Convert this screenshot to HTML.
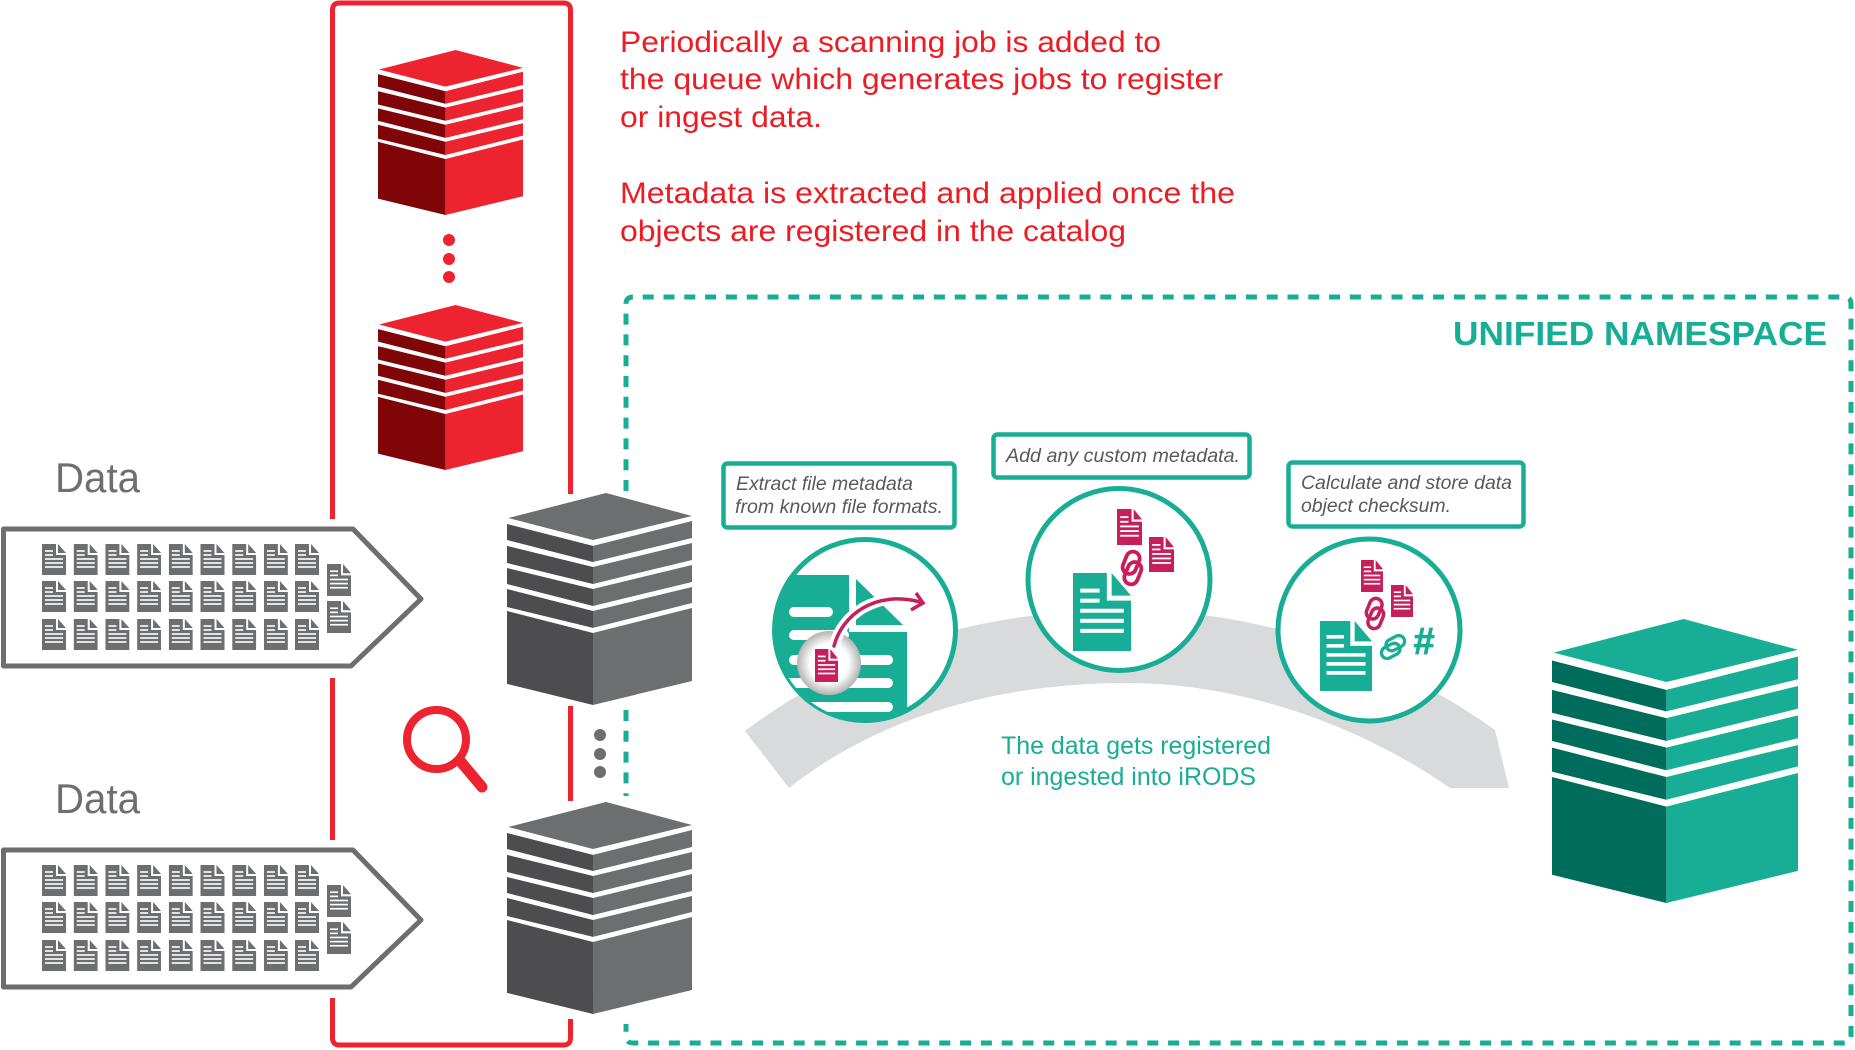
<!DOCTYPE html>
<html><head><meta charset="utf-8"><style>
html,body{margin:0;padding:0;background:#fff}
svg{display:block;font-family:"Liberation Sans",sans-serif}
</style></head><body>
<svg width="1855" height="1050" viewBox="0 0 1855 1050" xmlns="http://www.w3.org/2000/svg">
<defs>
<symbol id="cube" viewBox="0 0 145 165" preserveAspectRatio="none" overflow="visible">
<polygon points="77.600,0 145,17.900 67.400,36.600 1,19.500" style="fill:var(--l)"/>
<polygon points="0,24.100 67.400,41.200 67.400,53.700 0,36.600" style="fill:var(--d)"/><polygon points="67.400,41.200 145,21.800 145,35 67.400,53.700" style="fill:var(--l)"/>
<polygon points="0,41.200 67.400,57.600 67.400,70.800 0,54.500" style="fill:var(--d)"/><polygon points="67.400,57.600 145,38.900 145,52.100 67.400,70.800" style="fill:var(--l)"/>
<polygon points="0,58.400 67.400,74.700 67.400,87.900 0,70.800" style="fill:var(--d)"/><polygon points="67.400,74.700 145,56 145,69.300 67.400,87.900" style="fill:var(--l)"/>
<polygon points="0,74.700 67.400,91.800 67.400,105 0,88.700" style="fill:var(--d)"/><polygon points="67.400,91.800 145,73.200 145,85.600 67.400,105" style="fill:var(--l)"/>
<polygon points="0,91.800 67.400,109 67.400,165 0,148.600" style="fill:var(--d)"/><polygon points="67.400,109 145,89.500 145,146.300 67.400,165" style="fill:var(--l)"/>
</symbol>
<symbol id="doc" viewBox="0 0 24 31" preserveAspectRatio="none">
<path d="M0 0H14V11H24V31H0Z" fill="currentColor"/><path d="M16 0L24 9H16Z" fill="currentColor"/>
<g fill="#fff"><rect x="3" y="6.200" width="8" height="1.600"/><rect x="3" y="10.200" width="8" height="1.600"/><rect x="3" y="14.200" width="18" height="1.600"/><rect x="3" y="18.200" width="18" height="1.600"/><rect x="3" y="22.200" width="18" height="1.600"/></g>
</symbol>
<g id="chain" fill="none" stroke="currentColor" stroke-width="3.800">
<rect x="-9.500" y="-16" width="13.500" height="23" rx="6.750"/>
<rect x="-4" y="-7" width="13.500" height="23" rx="6.750"/>
</g>
<g id="row" style="color:#6d6e70">
<use href="#doc" x="42" width="24" height="31"/><use href="#doc" x="73.700" width="24" height="31"/><use href="#doc" x="105.400" width="24" height="31"/><use href="#doc" x="137.100" width="24" height="31"/><use href="#doc" x="168.800" width="24" height="31"/><use href="#doc" x="200.500" width="24" height="31"/><use href="#doc" x="232.200" width="24" height="31"/><use href="#doc" x="263.900" width="24" height="31"/><use href="#doc" x="295" width="24" height="31"/>
</g>
<g id="pack">
<polygon points="3.500,529 353,529 421,599 351,666 3.500,666" fill="#fff" stroke="#6d6e70" stroke-width="5" stroke-linejoin="round"/>
<use href="#row" y="544"/><use href="#row" y="581"/><use href="#row" y="619"/>
<g style="color:#6d6e70"><use href="#doc" x="327" y="564" width="24" height="32"/><use href="#doc" x="327" y="601" width="24" height="32"/></g>
</g>
<clipPath id="c1"><circle cx="865" cy="630" r="90"/></clipPath>
<radialGradient id="ball"><stop offset="0" stop-color="#fff"/><stop offset=".6" stop-color="#fff"/><stop offset="1" stop-color="#b4b4b4"/></radialGradient>
</defs>

<!-- red frame -->
<path d="M332.500 519V10Q332.500 3 339.500 3H563.500Q570.500 3 570.500 10V494M332.500 678V840M570.500 706V801M332.500 998V1038Q332.500 1045 339.500 1045H563.500Q570.500 1045 570.500 1038V1019" fill="none" stroke="#ed2330" stroke-width="5"/>

<!-- teal dashed frame -->
<path d="M626 491V304Q626 297 633 297H1844Q1851 297 1851 304V1036Q1851 1043 1844 1043H633Q626 1043 626 1036V1024M626 710V796" fill="none" stroke="#18ae95" stroke-width="5" stroke-dasharray="11 9.800"/>

<!-- red cubes -->
<g style="--l:#ed2330;--d:#7f0508">
<use href="#cube" x="378" y="50" width="145" height="165"/>
<use href="#cube" x="378" y="305" width="145" height="165"/>
</g>
<g fill="#ed2330"><circle cx="449" cy="240" r="6"/><circle cx="449" cy="259" r="6"/><circle cx="449" cy="277" r="6"/></g>

<!-- red text -->
<g fill="#ed1c24" font-size="30">
<text x="620" y="52" textLength="541" lengthAdjust="spacingAndGlyphs">Periodically a scanning job is added to</text>
<text x="620" y="89" textLength="603" lengthAdjust="spacingAndGlyphs">the queue which generates jobs to register</text>
<text x="620" y="127" textLength="202" lengthAdjust="spacingAndGlyphs">or ingest data.</text>
<text x="620" y="203" textLength="615" lengthAdjust="spacingAndGlyphs">Metadata is extracted and applied once the</text>
<text x="620" y="241" textLength="506" lengthAdjust="spacingAndGlyphs">objects are registered in the catalog</text>
</g>
<text x="1453" y="345" font-size="33" font-weight="bold" fill="#18ae95" textLength="374" lengthAdjust="spacingAndGlyphs">UNIFIED NAMESPACE</text>

<!-- data -->
<g fill="#6d6e70" font-size="42">
<text x="55" y="492" textLength="85" lengthAdjust="spacingAndGlyphs">Data</text>
<text x="55" y="813" textLength="85" lengthAdjust="spacingAndGlyphs">Data</text>
</g>
<use href="#pack"/><use href="#pack" y="321"/>

<!-- grey cubes -->
<g style="--l:#6d6e70;--d:#4d4d4f">
<use href="#cube" x="507" y="493" width="185" height="212"/>
<use href="#cube" x="507" y="802" width="185" height="212"/>
</g>
<g fill="#6d6e70"><circle cx="600" cy="735" r="6"/><circle cx="600" cy="754" r="6"/><circle cx="600" cy="772" r="6"/></g>

<!-- magnifier -->
<circle cx="436.500" cy="739.500" r="29.500" fill="none" stroke="#ed2330" stroke-width="8"/>
<line x1="461" y1="762" x2="482" y2="787" stroke="#ed2330" stroke-width="11" stroke-linecap="round"/>

<!-- arc -->
<path d="M745 731C840 660 960 610 1125 610C1260 610 1390 655 1495 730L1509 788H1450C1345 715 1225 683 1127 683C1000 683 880 716 789 788Z" fill="#d9dadc"/>

<!-- circle 1 -->
<circle cx="865" cy="630" r="90.500" fill="#fff" stroke="#18ae95" stroke-width="5"/>
<g clip-path="url(#c1)">
<path d="M760 575H849V632H907V735H760Z" fill="#18ae95"/>
<path d="M856 579L903 625H856Z" fill="#18ae95"/>
<g fill="#fff"><rect x="789" y="607" width="44" height="10" rx="5"/><rect x="789" y="630" width="60" height="10" rx="5"/><rect x="789" y="655" width="104" height="10" rx="5"/><rect x="780" y="678" width="113" height="10" rx="5"/><rect x="780" y="702" width="113" height="10" rx="5"/></g>
</g>
<circle cx="829" cy="663" r="32" fill="url(#ball)"/>
<path d="M834 646C842 615 875 590 920 602" fill="none" stroke="#fff" stroke-width="11"/>
<path d="M834 646C842 615 875 590 920 602" fill="none" stroke="#c81e5b" stroke-width="3.500" stroke-linecap="round"/>
<path d="M916 593L923 603L911 610" fill="none" stroke="#c81e5b" stroke-width="3.500"/>
<use href="#doc" x="815" y="649" width="23" height="33" style="color:#c81e5b"/>

<!-- circle 2 -->
<circle cx="1119" cy="579.500" r="91" fill="#fff" stroke="#18ae95" stroke-width="5"/>
<use href="#doc" x="1073" y="573" width="58" height="78" style="color:#18ae95"/>
<use href="#doc" x="1117" y="509" width="25" height="36" style="color:#c81e5b"/>
<use href="#doc" x="1149" y="537" width="25" height="35" style="color:#c81e5b"/>
<use href="#chain" transform="translate(1132 568) rotate(22)" style="color:#c81e5b"/>

<!-- circle 3 -->
<circle cx="1369" cy="630" r="91" fill="#fff" stroke="#18ae95" stroke-width="5"/>
<use href="#doc" x="1320" y="621" width="52" height="70" style="color:#18ae95"/>
<use href="#doc" x="1361" y="560" width="22" height="32" style="color:#c81e5b"/>
<use href="#doc" x="1391" y="585" width="22" height="32" style="color:#c81e5b"/>
<use href="#chain" transform="translate(1375 613.500) rotate(22) scale(.92)" style="color:#c81e5b"/>
<use href="#chain" transform="translate(1393 647) rotate(62) scale(.85)" style="color:#18ae95"/>
<text x="1413.500" y="654" font-size="38" font-weight="bold" fill="#18ae95" stroke="#18ae95" stroke-width=".8">#</text>

<!-- callouts -->
<g fill="#fff" stroke="#18ae95" stroke-width="4.500">
<rect x="723.500" y="463.500" width="231" height="64" rx="4"/>
<rect x="993.500" y="434.500" width="256" height="43" rx="4"/>
<rect x="1288.500" y="462.500" width="235" height="64" rx="4"/>
</g>
<g fill="#58595b" font-size="19" font-style="italic">
<text x="736" y="490" textLength="177" lengthAdjust="spacingAndGlyphs">Extract file metadata</text>
<text x="735" y="513" textLength="208" lengthAdjust="spacingAndGlyphs">from known file formats.</text>
<text x="1006" y="462" textLength="234" lengthAdjust="spacingAndGlyphs">Add any custom metadata.</text>
<text x="1301" y="489" textLength="211" lengthAdjust="spacingAndGlyphs">Calculate and store data</text>
<text x="1301" y="512" textLength="150" lengthAdjust="spacingAndGlyphs">object checksum.</text>
</g>

<g fill="#18ae95" font-size="25">
<text x="1001" y="754" textLength="270" lengthAdjust="spacingAndGlyphs">The data gets registered</text>
<text x="1001" y="785" textLength="255" lengthAdjust="spacingAndGlyphs">or ingested into iRODS</text>
</g>

<!-- teal cube -->
<g style="--l:#18ae95;--d:#006c5b">
<use href="#cube" x="1552" y="619" width="246" height="284"/>
</g>
</svg>
</body></html>
